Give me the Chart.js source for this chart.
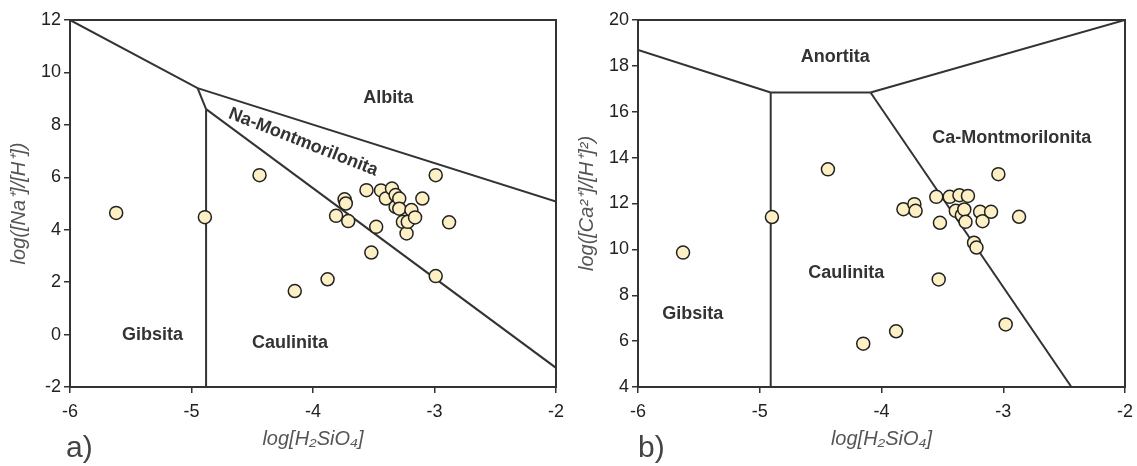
<!DOCTYPE html>
<html>
<head>
<meta charset="utf-8">
<script src="https://cdn.jsdelivr.net/npm/chart.js@4.4.1/dist/chart.umd.min.js"></script>
<style>
  body { margin: 0; background: #fff; width: 1137px; height: 466px; position: relative; overflow: hidden; }
  .panel { position: absolute; top: 0; }
  .tag { position: absolute; top: 430px; font: 30px "Liberation Sans", Arial, sans-serif; color: #444; }
</style>
</head>
<body>
<div class="panel" style="left:0"><canvas id="chartA" width="568" height="466"></canvas></div>
<div class="panel" style="left:568px"><canvas id="chartB" width="569" height="466"></canvas></div>
<div class="tag" style="left:66px">a)</div>
<div class="tag" style="left:638px">b)</div>
<script>
// samples, panel a) log([Na+]/[H+]) vs log[H4SiO4]
var naX = [-5.62, -4.89, -4.44, -4.15, -3.88, -3.81, -3.74, -3.73, -3.71, -3.56, -3.52, -3.48,
           -3.44, -3.40, -3.35, -3.32, -3.32, -3.29, -3.29, -3.26, -3.23, -3.22, -3.19, -3.16,
           -3.10, -2.99, -2.99, -2.88];
var naY = [4.64, 4.48, 6.08, 1.66, 2.11, 4.53, 5.16, 5.0, 4.33, 5.51, 3.13, 4.11,
           5.5, 5.19, 5.57, 5.32, 4.87, 5.19, 4.8, 4.3, 3.86, 4.3, 4.75, 4.47,
           5.19, 6.08, 2.23, 4.28];

// samples, panel b) log([Ca2+]/[H+]^2)
var caX = [-5.63, -4.90, -4.44, -4.15, -3.88, -3.82, -3.73, -3.72, -3.55, -3.53, -3.52, -3.44,
           -3.39, -3.36, -3.34, -3.32, -3.31, -3.29, -3.24, -3.22, -3.19, -3.17, -3.10, -3.04,
           -2.98, -2.87];
var caY = [9.86, 11.41, 13.49, 5.89, 6.43, 11.75, 11.97, 11.68, 12.29, 8.69, 11.16, 12.29,
           11.68, 12.36, 11.49, 11.74, 11.2, 12.33, 10.29, 10.08, 11.64, 11.23, 11.64, 13.28,
           6.73, 11.42];

// stability field boundaries, panel a)
var naAlbitaX = [-6, -4.95, -2];
var naAlbitaY = [12, 9.4, 5.07];
var naKinkX = [-4.95, -4.88];
var naKinkY = [9.4, 8.6];
var naGibsX = [-4.88, -4.88];
var naGibsY = [8.6, -2];
var naCaulX = [-4.88, -2];
var naCaulY = [8.6, -1.27];

// stability field boundaries, panel b)
var caAnorLeftX = [-6, -4.91];
var caAnorLeftY = [18.69, 16.84];
var caAnorMidX = [-4.91, -4.09];
var caAnorMidY = [16.84, 16.84];
var caAnorRightX = [-4.09, -2];
var caAnorRightY = [16.84, 20];
var caGibsX = [-4.91, -4.91];
var caGibsY = [16.84, 4];
var caCaulX = [-4.09, -2.44];
var caCaulY = [16.84, 4];

var xTicks = [-6, -5, -4, -3, -2];

var FONT = '"Liberation Sans", Arial, sans-serif';

function pts(xs, ys) {
  return xs.map(function (x, i) { return { x: x, y: ys[i] }; });
}

function boundary(xs, ys) {
  return {
    type: 'line',
    data: pts(xs, ys),
    borderColor: '#333',
    borderWidth: 2,
    pointRadius: 0,
    tension: 0,
    fill: false
  };
}

function samples(xs, ys) {
  return {
    type: 'scatter',
    data: pts(xs, ys),
    backgroundColor: '#fcf0c4',
    borderColor: '#222',
    borderWidth: 1.5,
    pointRadius: 6.5,
    pointHoverRadius: 6.5
  };
}

// frame around the plot + field names
var fieldLabels = {
  id: 'fieldLabels',
  afterDatasetsDraw: function (chart, args, opts) {
    var c = chart.ctx, a = chart.chartArea;
    var xs = chart.scales.x, ys = chart.scales.y;
    c.save();
    c.strokeStyle = '#333';
    c.lineWidth = 2;
    c.strokeRect(a.left, a.top, a.right - a.left, a.bottom - a.top);
    c.fillStyle = '#333';
    c.font = 'bold 18px ' + FONT;
    c.textAlign = 'center';
    c.textBaseline = 'middle';
    opts.items.forEach(function (it) {
      c.save();
      c.translate(xs.getPixelForValue(it.x), ys.getPixelForValue(it.y));
      c.rotate((it.rot || 0) * Math.PI / 180);
      c.fillText(it.text, 0, 0);
      c.restore();
    });
    c.restore();
  }
};

function makeChart(id, datasets, yMin, yMax, yTitle, labels) {
  return new Chart(document.getElementById(id), {
    type: 'scatter',
    data: { datasets: datasets },
    options: {
      responsive: false,
      animation: false,
      layout: { padding: { top: 20, right: 12, left: 0, bottom: 0 } },
      plugins: {
        legend: { display: false },
        tooltip: { enabled: false },
        fieldLabels: { items: labels }
      },
      scales: {
        x: {
          type: 'linear',
          min: -6, max: -2,
          afterFit: function (s) { s.height = 79; s.paddingLeft = 0; s.paddingRight = 0; },
          afterBuildTicks: function (s) { s.ticks = xTicks.map(function (v) { return { value: v }; }); },
          grid: { drawOnChartArea: false, drawTicks: true, tickLength: 6, color: '#333', lineWidth: 1.5 },
          border: { color: '#333', width: 2 },
          ticks: { color: '#222', font: { family: FONT, size: 18 }, padding: 8 },
          title: { display: true, text: 'log[H₂SiO₄]', color: '#555',
                   font: { family: FONT, size: 20, style: 'italic' }, padding: { top: 2, bottom: 15 } }
        },
        y: {
          type: 'linear',
          min: yMin, max: yMax,
          afterFit: function (s) { s.width = 70; s.paddingTop = 0; s.paddingBottom = 0; },
          grid: { drawOnChartArea: false, drawTicks: true, tickLength: 6, color: '#333', lineWidth: 1.5 },
          border: { color: '#333', width: 2 },
          ticks: { stepSize: 2, color: '#222', font: { family: FONT, size: 18 }, padding: 3 },
          title: { display: true, text: yTitle, color: '#555',
                   font: { family: FONT, size: 20, style: 'italic' }, padding: { top: 7, bottom: 0 } }
        }
      }
    },
    plugins: [fieldLabels]
  });
}

makeChart('chartA', [
  samples(naX, naY),
  boundary(naAlbitaX, naAlbitaY),
  boundary(naKinkX, naKinkY),
  boundary(naGibsX, naGibsY),
  boundary(naCaulX, naCaulY)
], -2, 12, 'log([Na⁺]/[H⁺])', [
  { text: 'Albita', x: -3.38, y: 9.02 },
  { text: 'Na-Montmorilonita', x: -4.08, y: 7.34, rot: 21.5 },
  { text: 'Gibsita', x: -5.32, y: 0 },
  { text: 'Caulinita', x: -4.19, y: -0.33 }
]);

makeChart('chartB', [
  samples(caX, caY),
  boundary(caAnorLeftX, caAnorLeftY),
  boundary(caAnorMidX, caAnorMidY),
  boundary(caAnorRightX, caAnorRightY),
  boundary(caGibsX, caGibsY),
  boundary(caCaulX, caCaulY)
], 4, 20, 'log([Ca²⁺]/[H⁺]²)', [
  { text: 'Anortita', x: -4.38, y: 18.37 },
  { text: 'Ca-Montmorilonita', x: -2.93, y: 14.87 },
  { text: 'Caulinita', x: -4.29, y: 8.95 },
  { text: 'Gibsita', x: -5.55, y: 7.16 }
]);
</script>
</body>
</html>
